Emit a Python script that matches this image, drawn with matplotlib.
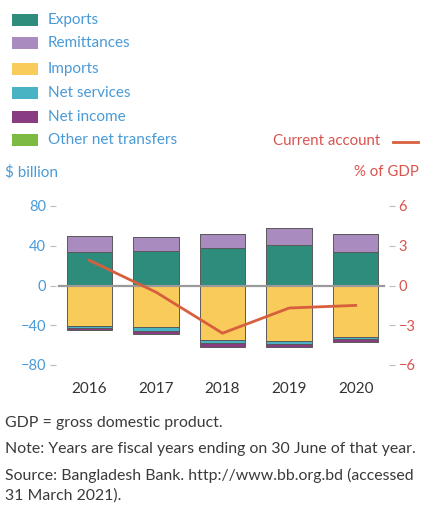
import matplotlib.pyplot as plt
import matplotlib.patches as mpatches

plt.rcParams['font.family'] = ['Lato', 'DejaVu Sans']

# data ($ billion, fiscal years)
years = ['2016', '2017', '2018', '2019', '2020']
exports = [33.5, 35.0, 37.9, 41.2, 33.5]
remittances = [16.8, 13.5, 14.4, 16.8, 18.8]
other_net_transfers = [0.0, 0.0, 0.0, 0.0, 0.0]
imports = [-40.6, -42.0, -54.7, -55.4, -52.0]
net_services = [-2.5, -3.5, -3.5, -3.0, -2.2]
net_income = [-1.5, -3.2, -3.2, -3.0, -2.2]
current_account = [1.9, -0.5, -3.6, -1.7, -1.5]  # % of GDP

col_exp = '#2e8c7c'
col_rem = '#a98bbf'
col_imp = '#f8cb5a'
col_ser = '#4ab3c3'
col_inc = '#8a3c82'
col_oth = '#7dba42'
blue = '#4a9ad6'
red = '#d9534f'
line_red = '#d75f3e'

W, H = 422, 505
fig = plt.figure(figsize=(W / 100, H / 100), dpi=100)

def px(x, y):
    return x / W, 1 - y / H

# axes box in pixels
left, right, top, bottom = 56, 389, 206, 365
ax = fig.add_axes([left / W, 1 - bottom / H, (right - left) / W, (bottom - top) / H])
x = range(len(years))
bw = 0.68
edge = dict(edgecolor='#5a5a5a', linewidth=0.7)

ax.bar(x, exports, bw, color=col_exp, **edge)
ax.bar(x, remittances, bw, bottom=exports, color=col_rem, **edge)
pos_top = [a + b for a, b in zip(exports, remittances)]
ax.bar(x, other_net_transfers, bw, bottom=pos_top, color=col_oth, **edge)
ax.bar(x, imports, bw, color=col_imp, **edge)
ax.bar(x, net_services, bw, bottom=imports, color=col_ser, **edge)
neg_bot = [a + b for a, b in zip(imports, net_services)]
ax.bar(x, net_income, bw, bottom=neg_bot, color=col_inc, **edge)

ax.axhline(0, xmin=0.01, xmax=0.985, color='#9a9a9a', linewidth=1.6, zorder=1.5)

ax.set_xlim(-0.5, 4.5)
ax.set_ylim(-80, 80)
ax.set_yticks([-80, -40, 0, 40, 80])
ax.set_yticklabels(['\u221280', '\u221240', '0', '40', '80'])
ax.tick_params(axis='y', colors='#bbbbbb', labelcolor=blue, labelsize=10.5, length=4, width=0.8, pad=3)
ax.set_xticks(list(x))
ax.set_xticklabels(years)
ax.tick_params(axis='x', length=0, labelsize=11, labelcolor='#333333', pad=12)
for s in ax.spines.values():
    s.set_visible(False)

ax2 = ax.twinx()
ax2.plot(list(x), current_account, color=line_red, linewidth=2, solid_joinstyle='miter')
ax2.set_ylim(-6, 6)
ax2.set_yticks([-6, -3, 0, 3, 6])
ax2.set_yticklabels(['\u22126', '\u22123', '0', '3', '6'])
ax2.tick_params(axis='y', colors='#bbbbbb', labelcolor=red, labelsize=10.5, length=4, width=0.8, pad=3)
for s in ax2.spines.values():
    s.set_visible(False)

# legend block at the top left
legend_items = [('Exports', col_exp), ('Remittances', col_rem), ('Imports', col_imp),
                ('Net services', col_ser), ('Net income', col_inc), ('Other net transfers', col_oth)]
rows_y = [20, 43, 69, 93, 117, 140]
for (lab, c), yy in zip(legend_items, rows_y):
    x0, y0 = px(12, yy + 6)
    fig.patches.append(mpatches.Rectangle((x0, y0), 26 / W, 12 / H, transform=fig.transFigure,
                                          facecolor=c, edgecolor='none'))
    fig.text(*px(48, yy), lab, color=blue, fontsize=11, va='center', ha='left')

fig.text(*px(380, 141), 'Current account', color=red, fontsize=10.8, va='center', ha='right')
fig.add_artist(plt.Line2D([393 / W, 418 / W], [1 - 142 / H, 1 - 142 / H], color=line_red, linewidth=2,
                          transform=fig.transFigure))
fig.text(*px(5, 172), '$ billion', color=blue, fontsize=11, va='center', ha='left')
fig.text(*px(419, 172), '% of GDP', color=red, fontsize=10.8, va='center', ha='right')

notes = [(423, 'GDP = gross domestic product.'),
         (449, 'Note: Years are fiscal years ending on 30 June of that year.'),
         (475, 'Source: Bangladesh Bank. http://www.bb.org.bd (accessed'),
         (496, '31 March 2021).')]
for yy, t in notes:
    fig.text(*px(5, yy), t, color='#3a3a3a', fontsize=11.4, va='center', ha='left')

fig.savefig('out.png', dpi=100, facecolor='white')
